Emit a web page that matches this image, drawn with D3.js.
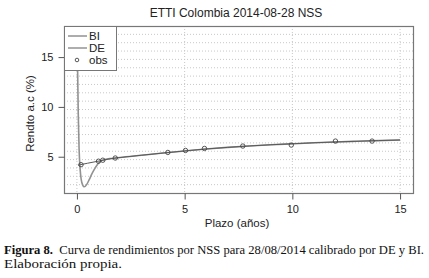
<!DOCTYPE html>
<html>
<head>
<meta charset="utf-8">
<script src="https://cdn.jsdelivr.net/npm/d3@7"></script>
<style>
  body { margin: 0; background: #fff; }
  svg { display: block; }
</style>
</head>
<body>
<svg id="chart"></svg>
<script>
// observed yields (circles)
const obsPlazo = [0.19, 1.0, 1.2, 1.78, 4.22, 5.04, 5.92, 7.7, 9.95, 12.0, 13.7];
const obsRend = [4.2, 4.55, 4.65, 4.87, 5.43, 5.63, 5.83, 6.07, 6.17, 6.57, 6.57];

// NSS curve calibrated by DE
const dePlazo = [0, 0.03, 0.06, 0.1, 0.15, 0.2, 0.27, 0.34, 0.45, 0.57, 0.7, 0.8, 0.96, 1.1, 1.3, 1.6, 2, 3, 4, 5, 6, 7, 8, 9, 10, 11, 12, 13, 14, 15];
const deRend = [17.5, 14.0, 9.5, 5.8, 3.7, 2.7, 2.15, 1.98, 2.2, 2.7, 3.3, 3.7, 4.25, 4.55, 4.72, 4.83, 4.93, 5.15, 5.37, 5.58, 5.78, 5.94, 6.08, 6.2, 6.3, 6.4, 6.48, 6.55, 6.62, 6.68];

// NSS curve calibrated by BI
const biPlazo = [0.05, 0.5, 1.1, 1.5, 2, 3, 4, 5, 6, 7, 8, 9, 10, 11, 12, 13, 14, 15];
const biRend = [4.15, 4.35, 4.6, 4.78, 4.92, 5.15, 5.37, 5.58, 5.78, 5.94, 6.08, 6.2, 6.3, 6.4, 6.48, 6.55, 6.62, 6.68];

const xTicks = [0, 5, 10, 15];
const yTicks = [5, 10, 15];

const width = 429;
const height = 278;
const plot = { left: 64, right: 413, top: 26, bottom: 193 };

const svg = d3.select("#chart")
    .attr("width", width)
    .attr("height", height)
    .style("font-family", "'Liberation Sans', Arial, sans-serif");

// R-style 4% extension of the data range
const ext = (lo, hi) => [lo - (hi - lo) * 0.04, hi + (hi - lo) * 0.04];
const x = d3.scaleLinear().domain(ext(0, 15)).range([plot.left, plot.right]);
const y = d3.scaleLinear().domain(ext(d3.min(deRend), d3.max(deRend))).range([plot.bottom, plot.top]);

// title
svg.append("text")
    .attr("x", 236).attr("y", 17)
    .attr("text-anchor", "middle")
    .style("font-size", "12px")
    .style("fill", "#222")
    .text("ETTI Colombia 2014-08-28 NSS");

// grid
const grid = svg.append("g")
    .style("stroke", "#c8c8c8")
    .style("stroke-dasharray", "1,2")
    .style("stroke-width", 1);
xTicks.forEach(t => {
    grid.append("line")
        .attr("x1", x(t)).attr("x2", x(t))
        .attr("y1", plot.top).attr("y2", plot.bottom);
});
const [y0, y1] = y.domain();
d3.range(1, 20).forEach(i => {
    const v = y0 + (y1 - y0) * i / 20;
    grid.append("line")
        .attr("x1", plot.left).attr("x2", plot.right)
        .attr("y1", y(v)).attr("y2", y(v));
});

// curves
const line = d3.line()
    .x(d => x(d[0]))
    .y(d => y(d[1]))
    .curve(d3.curveMonotoneX);

svg.append("path")
    .datum(dePlazo.map((p, i) => [p, deRend[i]]))
    .attr("d", line)
    .style("fill", "none")
    .style("stroke", "#929292")
    .style("stroke-width", 1.6);

svg.append("path")
    .datum(biPlazo.map((p, i) => [p, biRend[i]]))
    .attr("d", line)
    .style("fill", "none")
    .style("stroke", "#5a5a5a")
    .style("stroke-width", 1);

// observations
svg.append("g").selectAll("circle")
    .data(obsPlazo.map((p, i) => [p, obsRend[i]]))
    .join("circle")
    .attr("cx", d => x(d[0]))
    .attr("cy", d => y(d[1]))
    .attr("r", 2.2)
    .style("fill", "none")
    .style("stroke", "#444")
    .style("stroke-width", 0.9);

// box
svg.append("rect")
    .attr("x", plot.left + 0.5).attr("y", plot.top + 0.5)
    .attr("width", plot.right - plot.left).attr("height", plot.bottom - plot.top)
    .style("fill", "none")
    .style("stroke", "#777")
    .style("stroke-width", 1.2);

// axes
const xAxis = svg.append("g")
    .attr("transform", `translate(0,${plot.bottom + 0.5})`)
    .call(d3.axisBottom(x).tickValues(xTicks).tickSize(6).tickPadding(6));
const yAxis = svg.append("g")
    .attr("transform", `translate(${plot.left + 0.5},0)`)
    .call(d3.axisLeft(y).tickValues(yTicks).tickSize(6).tickPadding(5));
[xAxis, yAxis].forEach(a => {
    a.select(".domain").remove();
    a.selectAll("line").style("stroke", "#555");
    a.selectAll("text")
        .style("font-family", "'Liberation Sans', Arial, sans-serif")
        .style("font-size", "11px")
        .style("fill", "#222");
});

// axis titles
svg.append("text")
    .attr("x", 237).attr("y", 227)
    .attr("text-anchor", "middle")
    .style("font-size", "11.5px")
    .style("fill", "#222")
    .text("Plazo (años)");

svg.append("text")
    .attr("transform", `translate(34,${(plot.top + plot.bottom) / 2 + 4}) rotate(-90)`)
    .attr("text-anchor", "middle")
    .style("font-size", "11.5px")
    .style("fill", "#222")
    .text("Rendto a.c (%)");

// legend
const legend = svg.append("g");
legend.append("rect")
    .attr("x", plot.left + 0.5).attr("y", plot.top + 0.5)
    .attr("width", 52).attr("height", 44)
    .style("fill", "#fff")
    .style("stroke", "#777");
const items = [
    { label: "BI", color: "#5a5a5a", type: "line", w: 1 },
    { label: "DE", color: "#8c8c8c", type: "line", w: 1.4 },
    { label: "obs", color: "#444", type: "point" }
];
items.forEach((it, i) => {
    const cy = 36 + i * 12;
    if (it.type === "line") {
        legend.append("line")
            .attr("x1", 68).attr("x2", 87)
            .attr("y1", cy).attr("y2", cy)
            .style("stroke", it.color)
            .style("stroke-width", it.w);
    } else {
        legend.append("circle")
            .attr("cx", 77).attr("cy", cy)
            .attr("r", 1.8)
            .style("fill", "none")
            .style("stroke", it.color)
            .style("stroke-width", 0.9);
    }
    legend.append("text")
        .attr("x", 89).attr("y", cy + 4)
        .style("font-size", "11.5px")
        .style("fill", "#222")
        .text(it.label);
});

// caption
const capFont = "'Liberation Serif', 'DejaVu Serif', serif";
const cap1 = svg.append("text")
    .attr("x", 4).attr("y", 254)
    .attr("textLength", 420)
    .attr("lengthAdjust", "spacingAndGlyphs")
    .style("font-family", capFont)
    .style("font-size", "11.5px")
    .style("fill", "#111");
cap1.append("tspan").style("font-weight", "bold").text("Figura 8.");
cap1.append("tspan").text("\u00a0 Curva de rendimientos por NSS para 28/08/2014 calibrado por DE y BI.");

svg.append("text")
    .attr("x", 4).attr("y", 268)
    .attr("textLength", 118)
    .attr("lengthAdjust", "spacingAndGlyphs")
    .style("font-family", capFont)
    .style("font-size", "11.5px")
    .style("fill", "#111")
    .text("Elaboración propia.");
</script>
</body>
</html>
